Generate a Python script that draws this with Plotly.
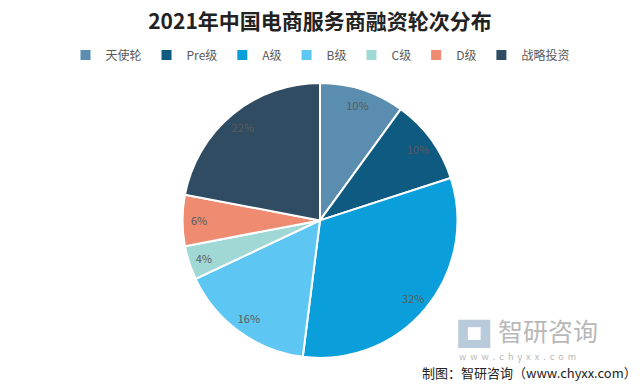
import plotly.graph_objects as go

categories = ["天使轮", "Pre级", "A级", "B级", "C级", "D级", "战略投资"]
values = [10, 10, 32, 16, 4, 6, 22]
colors = ["#5A8DB0", "#0F5A80", "#0A9FDB", "#5EC6F2", "#A0D8D6", "#EE8B70", "#2F4C62"]

title_text = "2021年中国电商服务商融资轮次分布"
source_text = "制图：智研咨询（www.chyxx.com）"
watermark_name = "智研咨询"
watermark_url = "w  w  w  .  c  h  y  x  x  .  c  o  m"

pie_domain = dict(x=[0, 1], y=[0.068, 0.784])

fig = go.Figure()
fig.add_trace(go.Pie(
    labels=categories,
    values=values,
    sort=False,
    direction="clockwise",
    rotation=0,
    marker=dict(colors=colors, line=dict(color="white", width=2)),
    textinfo="none",
    domain=pie_domain,
    hoverinfo="label+percent",
))
# label layer: a ring so percentages sit near the outer edge like the reference
fig.add_trace(go.Pie(
    labels=categories,
    values=values,
    sort=False,
    direction="clockwise",
    rotation=0,
    hole=0.76,
    marker=dict(colors=["rgba(0,0,0,0)"] * len(values), line=dict(width=0)),
    texttemplate="%{percent:.0%}",
    textposition="inside",
    insidetextorientation="horizontal",
    textfont=dict(family="Noto Sans CJK SC", size=11, color="#5a5a5a"),
    domain=pie_domain,
    showlegend=False,
    hoverinfo="skip",
))

fig.update_layout(
    width=640, height=384,
    margin=dict(l=0, r=0, t=0, b=0),
    paper_bgcolor="white",
    plot_bgcolor="white",
    title=dict(text="<b>" + title_text + "</b>", x=0.5, xanchor="center", y=0.943, yanchor="middle",
               font=dict(family="Noto Sans CJK SC", size=21, color="#222222")),
    legend=dict(orientation="h", x=0.5, xanchor="center", y=0.857, yanchor="middle",
                font=dict(family="Noto Sans CJK SC", size=12, color="#595959"),
                itemwidth=30, traceorder="normal"),
    showlegend=True,
)

fig.add_annotation(x=0.998, y=0.031, xref="paper", yref="paper", xanchor="right", yanchor="middle",
                   text=source_text, showarrow=False,
                   font=dict(family="Noto Sans CJK SC", size=13, color="#222222"))
fig.add_annotation(x=0.775, y=0.14, xref="paper", yref="paper", xanchor="left", yanchor="middle",
                   text=watermark_name, showarrow=False,
                   font=dict(family="Noto Sans CJK SC", size=25, color="#b8b8b8"))
fig.add_annotation(x=0.714, y=0.071, xref="paper", yref="paper", xanchor="left", yanchor="middle",
                   text=watermark_url, showarrow=False,
                   font=dict(family="Noto Sans CJK SC", size=9, color="#b8b8b8"))
fig.add_shape(type="rect", xref="paper", yref="paper", x0=0.716, x1=0.766, y0=0.094, y1=0.167,
              line=dict(width=0), fillcolor="#b9cadb")
fig.add_shape(type="rect", xref="paper", yref="paper", x0=0.731, x1=0.751, y0=0.115, y1=0.148,
              line=dict(width=0), fillcolor="white")

fig.write_html("out.html",
               config={"displayModeBar": False},
               post_script="document.body.style.margin='0';document.body.style.overflow='hidden';")
